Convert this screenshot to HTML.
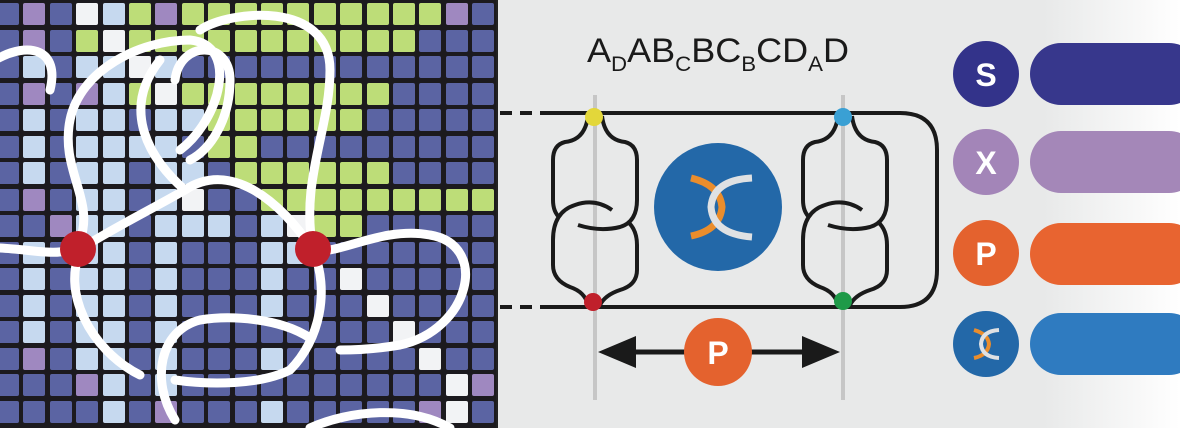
<!DOCTYPE html>
<html><head><meta charset="utf-8"><style>
body{margin:0;width:1180px;height:428px;overflow:hidden;background:#e9eaea;font-family:"Liberation Sans",sans-serif;position:relative}
#grid{position:absolute;left:0;top:0;width:497px;height:428px;background:#1c1a1e;overflow:hidden}
.c{position:absolute;width:22px;height:22px;border-radius:2px}
#right{position:absolute;left:497px;top:0;width:683px;height:428px;background:linear-gradient(90deg,#e8e9e9 0%,#e8e9e9 80%,#ffffff 100%)}
</style></head><body>
<div id="grid"></div>
<div id="right"></div>
<svg width="1180" height="428" style="position:absolute;left:0;top:0">
<g fill="none" stroke="#fff" stroke-width="9" stroke-linecap="round">
<path d="M0 248 C40 250 70 260 80 240 C95 200 60 170 70 120 C80 70 140 40 190 40 C240 45 220 120 180 150"/>
<path d="M-5 60 C30 40 60 50 50 90"/>
<path d="M82 248 C110 230 150 210 185 190 C230 160 280 200 313 250"/>
<path d="M185 190 C150 160 120 110 160 60"/>
<path d="M200 30 C230 10 330 0 330 70 C330 130 300 180 313 250"/>
<path d="M175 80 C180 40 230 40 230 80 C230 120 210 150 190 160"/>
<path d="M313 248 C330 260 380 225 430 235 C490 245 470 330 400 345 C370 350 350 350 340 350"/>
<path d="M82 248 C60 290 90 350 140 375"/>
<path d="M310 338 C280 318 230 315 200 320 C160 330 150 380 175 420"/>
<path d="M313 250 C330 290 320 340 290 370 C260 385 210 385 175 380"/>
<path d="M310 428 C350 410 410 405 450 428"/>
</g>
<circle cx="78" cy="249" r="18" fill="#c0202b"/>
<circle cx="313" cy="249" r="18" fill="#c0202b"/>
<line x1="497" y1="0" x2="497" y2="428" stroke="#222" stroke-width="2"/>
<line x1="595" y1="95" x2="595" y2="400" stroke="#c6c6c6" stroke-width="4"/>
<line x1="843" y1="95" x2="843" y2="400" stroke="#c6c6c6" stroke-width="4"/>
<g stroke="#1a1a1a" stroke-width="4" fill="none">
<path d="M500 113 H548" stroke-dasharray="12 8"/>
<path d="M500 307 H548" stroke-dasharray="12 8"/>
<path d="M546 113 H900 Q937 113 937 150 V270 Q937 307 900 307 H546"/>
<path d="M588 116 Q585 140 565 142 Q553 145 553 160 V200 Q553 212 560 218"/>
<path d="M602 116 Q605 140 625 142 Q637 145 637 160 V200 Q637 222 620 227 Q600 232 578 225"/>
<path d="M612 210 Q595 198 575 205 Q553 212 553 240 V265 Q553 280 570 287 Q585 292 588 305"/>
<path d="M628 222 Q637 230 637 245 V270 Q637 285 620 290 Q605 295 600 305"/>
<g transform="translate(250,0)">
<path d="M588 116 Q585 140 565 142 Q553 145 553 160 V200 Q553 212 560 218"/>
<path d="M602 116 Q605 140 625 142 Q637 145 637 160 V200 Q637 222 620 227 Q600 232 578 225"/>
<path d="M612 210 Q595 198 575 205 Q553 212 553 240 V265 Q553 280 570 287 Q585 292 588 305"/>
<path d="M628 222 Q637 230 637 245 V270 Q637 285 620 290 Q605 295 600 305"/>
</g>
</g>
<circle cx="594" cy="117" r="9" fill="#e3d73a"/>
<circle cx="843" cy="117" r="9" fill="#3aa0d4"/>
<circle cx="593" cy="302" r="9" fill="#c0202b"/>
<circle cx="843" cy="301" r="9" fill="#1e9a48"/>
<circle cx="718" cy="207" r="64" fill="#2368a8"/>
<path d="M691 178 Q720 185 722 207 Q720 230 691 236" stroke="#ea8d2c" stroke-width="7" fill="none"/>
<path d="M752 178 Q713 180 711 207 Q713 234 752 237" stroke="#dfe1e3" stroke-width="7" fill="none"/>
<line x1="630" y1="352" x2="808" y2="352" stroke="#1a1a1a" stroke-width="5"/>
<polygon points="598,352 636,336 636,368" fill="#1a1a1a"/>
<polygon points="840,352 802,336 802,368" fill="#1a1a1a"/>
<circle cx="718" cy="352" r="34" fill="#e4622e"/>
<text x="718" y="364" font-size="32" font-weight="bold" fill="#fff" text-anchor="middle" font-family="Liberation Sans">P</text>
<text x="587" y="62" font-size="34" fill="#1a1a1a" font-family="Liberation Sans" textLength="262" lengthAdjust="spacingAndGlyphs">A<tspan font-size="21" dy="9">D</tspan><tspan dy="-9">AB</tspan><tspan font-size="21" dy="9">C</tspan><tspan dy="-9">BC</tspan><tspan font-size="21" dy="9">B</tspan><tspan dy="-9">CD</tspan><tspan font-size="21" dy="9">A</tspan><tspan dy="-9">D</tspan></text>
<rect x="1030" y="43" width="170" height="62" rx="31" fill="#37378c"/>
<rect x="1030" y="131" width="170" height="62" rx="31" fill="#a487b8"/>
<rect x="1030" y="223" width="170" height="62" rx="31" fill="#e86430"/>
<rect x="1030" y="313" width="170" height="62" rx="31" fill="#2f7bc0"/>
<circle cx="986" cy="74" r="33" fill="#33338a"/>
<circle cx="986" cy="162" r="33" fill="#a385b8"/>
<circle cx="986" cy="253" r="33" fill="#e4622e"/>
<circle cx="986" cy="344" r="33" fill="#2368a8"/>
<text x="986" y="86" font-size="32" font-weight="bold" fill="#fff" text-anchor="middle">S</text>
<text x="986" y="174" font-size="32" font-weight="bold" fill="#fff" text-anchor="middle">X</text>
<text x="986" y="265" font-size="32" font-weight="bold" fill="#fff" text-anchor="middle">P</text>
<path d="M974 330 Q988 334 989 344 Q988 355 974 358" stroke="#ea8d2c" stroke-width="4" fill="none"/>
<path d="M999 330 Q982 331 981 344 Q982 357 999 358" stroke="#dfe1e3" stroke-width="4" fill="none"/>
</svg>
<script>
var m=[
"DPDWLGPGGGGGGGGGGPD",
"DPDGWGGGGGGGGGGGDDD",
"DLDLLWLDDDDDDDDDDDD",
"DPDPLGWGGGGGGGGDDDD",
"DLDLLDLLGGGGGGDDDDD",
"DLDLLLLDGGDDDDDDDDD",
"DLDLLDLLDGGGGGGDDDD",
"DPDLLDLWDDGGGGGGGGG",
"DDPLLDLLLDLWGGDDDDD",
"DLDLLDLDDDLLDDDDDDD",
"DLDLLDLDDDLDDWDDDDD",
"DLDLLDLDDDLDDDWDDDD",
"DLDLLDLDDDDDDDDWDDD",
"DPDLLDLDDDLDDDDDWDD",
"DDDPLDLDDDDDDDDDDWP",
"DDDDLDPDDDLDDDDDPWD"];
var col={D:"#5b64a3",L:"#c6d9ef",G:"#bddd78",P:"#9f88c0",W:"#f2f3f5"};
var g=document.getElementById("grid"),h="";
for(var r=0;r<16;r++)for(var c=0;c<19;c++){h+='<div class="c" style="left:'+(c*26.4-3)+'px;top:'+(r*26.5+3)+'px;background:'+col[m[r][c]]+'"></div>';}
g.innerHTML=h;
</script>
</body></html>
